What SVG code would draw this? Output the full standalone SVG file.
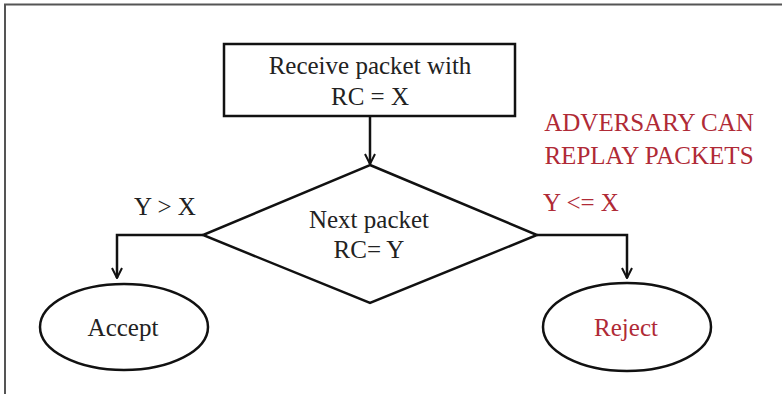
<svg xmlns="http://www.w3.org/2000/svg" width="782" height="394" viewBox="0 0 782 394">
<defs>
<marker id="arr" viewBox="0 0 12 12" refX="11" refY="6" markerWidth="12" markerHeight="12" markerUnits="userSpaceOnUse" orient="auto">
<path d="M1,1 L11,6 L1,11" fill="none" stroke="#111" stroke-width="2"/>
</marker>
<style>
.shape{fill:none;stroke:#111;stroke-width:2.5}
.t{font-family:"Liberation Serif","Times New Roman",serif;font-size:25px;fill:#222;text-anchor:middle}
.red{fill:#b02a36}
.conn{fill:none;stroke:#111;stroke-width:2.5}
</style>
</defs>
<rect width="782" height="394" fill="#fff"/>
<path d="M5,394 L5,4.5 L782,4.5" fill="none" stroke="#555" stroke-width="2"/>
<g id="connectors">
<line class="conn" x1="370" y1="116" x2="370" y2="164" marker-end="url(#arr)"/>
<polyline class="conn" points="203,235 117,235 117,278" marker-end="url(#arr)"/>
<polyline class="conn" points="537,235 627,235 627,278" marker-end="url(#arr)"/>
</g>
<g id="receive">
<rect class="shape" x="224" y="44" width="291" height="72"/>
<text class="t" x="370" y="74">Receive packet with</text>
<text class="t" x="370" y="105">RC = X</text>
</g>
<g id="decision">
<polygon class="shape" points="370,165 537,235 370,303 203,235"/>
<text class="t" x="369" y="228">Next packet</text>
<text class="t" x="369" y="258">RC= Y</text>
</g>
<g id="label-yx">
<text class="t" x="165" y="215">Y &gt; X</text>
</g>
<g id="label-adv">
<text class="t red" x="649" y="131">ADVERSARY CAN</text>
<text class="t red" x="649" y="164">REPLAY PACKETS</text>
<text class="t red" x="581" y="211">Y &lt;= X</text>
</g>
<g id="accept">
<ellipse class="shape" cx="124" cy="327" rx="84" ry="43"/>
<text class="t" x="123" y="336">Accept</text>
</g>
<g id="reject">
<ellipse class="shape" cx="627" cy="327" rx="84" ry="44"/>
<text class="t red" x="626" y="336">Reject</text>
</g>
</svg>
